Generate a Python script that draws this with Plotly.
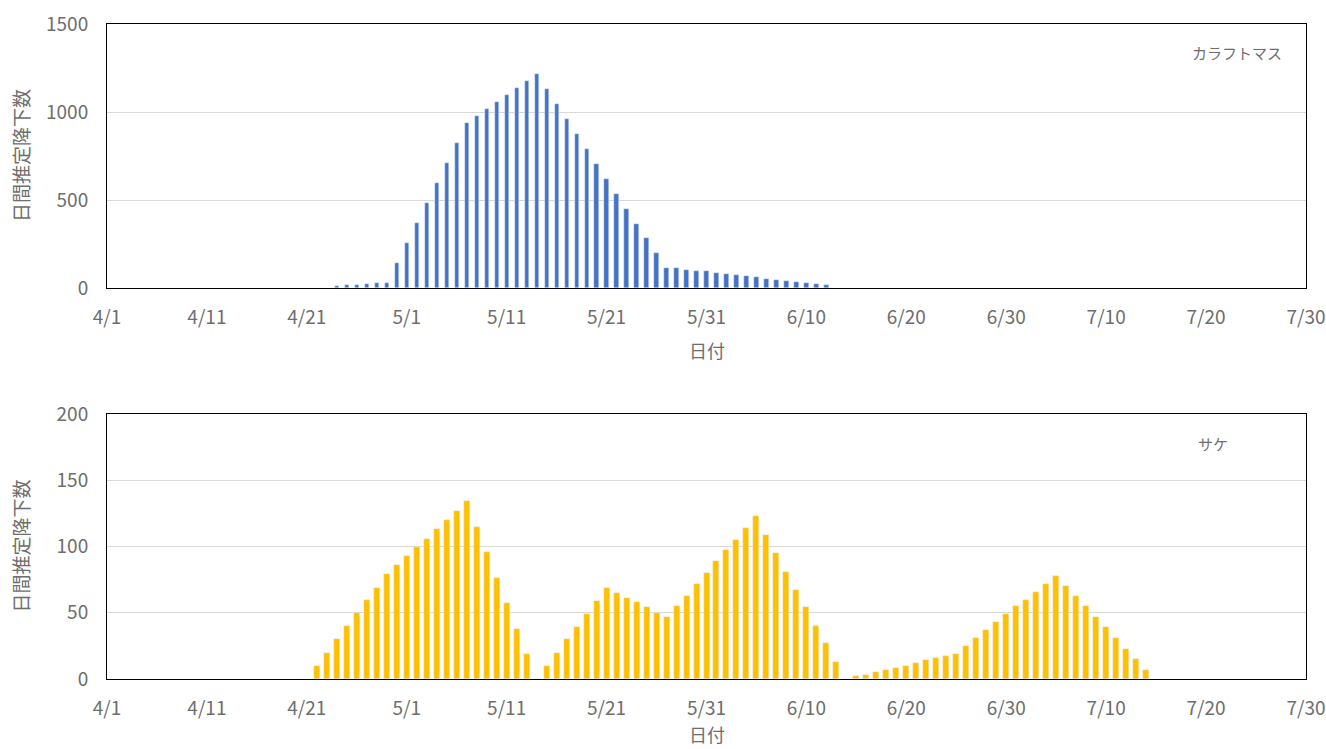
import plotly.graph_objects as go
import datetime as dt

# ---- data ----
pink_start = "2020-04-24"
pink_values = [10, 15, 15, 20, 27, 27, 140, 254, 369, 485, 599, 708, 824, 940, 980, 1017,
               1059, 1097, 1136, 1178, 1214, 1133, 1048, 959, 875, 788, 705, 618, 536, 451,
               366, 282, 201, 116, 112, 102, 99, 95, 85, 80, 76, 66, 61, 51, 48, 40, 34, 28,
               21, 15]

chum_start = "2020-04-22"
chum_values = [10, 20, 30, 40, 50, 60, 69, 79, 86, 93, 100, 106, 113, 120, 127, 134, 115,
               96, 76, 57, 38, 19, 0,
               10, 20, 30, 39, 49, 59, 69, 65, 61, 58, 54, 50, 47, 55, 63, 72, 80, 89, 97,
               105, 114, 123, 109, 95, 81, 67, 54, 40, 27, 13, 0,
               2, 3, 5, 7, 8, 10, 12, 14, 16, 17, 19, 25, 31, 37, 43, 49, 55, 60, 66, 72,
               78, 70, 63, 55, 47, 39, 31, 23, 15, 7]

pink_label = "カラフトマス"
chum_label = "サケ"
y_title = "日間推定降下数"
x_title = "日付"


def dates(start, n):
    d0 = dt.date.fromisoformat(start)
    return [(d0 + dt.timedelta(days=i)).isoformat() for i in range(n)]


DAY = 86400000
FONT = "Noto Sans CJK JP"
GRAY = "#6e6e6e"

fig = go.Figure()
fig.add_trace(go.Bar(x=dates(pink_start, len(pink_values)), y=pink_values,
                     marker_color="#4472C4", width=0.42 * DAY, xaxis="x", yaxis="y",
                     showlegend=False))
fig.add_trace(go.Bar(x=dates(chum_start, len(chum_values)), y=chum_values,
                     marker_color="#FFC000", width=0.6 * DAY, xaxis="x2", yaxis="y2",
                     showlegend=False))

W, H = 1326, 749


def px(x):
    return x / W


def py(y):
    return 1 - y / H


xd = [px(107), px(1306)]
yd1 = [py(288), py(24)]
yd2 = [py(679), py(414)]

xcommon = dict(type="date", range=["2020-04-01", "2020-07-30"], tick0="2020-04-01",
               dtick=10 * DAY, tickformat="%-m/%-d", showgrid=False, zeroline=False,
               showline=True, linecolor="black", linewidth=1, mirror=True,
               ticks="outside", ticklen=12, tickcolor="rgba(0,0,0,0)", automargin=False,
               tickfont=dict(family=FONT, size=19, color=GRAY), domain=xd)
ycommon = dict(showgrid=True, gridcolor="#d9d9d9", gridwidth=1, zeroline=False,
               showline=True, linecolor="black", linewidth=1, mirror=True,
               ticks="outside", ticklen=14, tickcolor="rgba(0,0,0,0)", automargin=False,
               tickfont=dict(family=FONT, size=19, color=GRAY))

fig.update_layout(
    width=W, height=H, margin=dict(l=0, r=0, t=0, b=0, autoexpand=False),
    plot_bgcolor="white", paper_bgcolor="white", bargap=0,
    xaxis=dict(**xcommon, anchor="y"),
    yaxis=dict(**ycommon, range=[0, 1500], dtick=500, domain=yd1, anchor="x"),
    xaxis2=dict(**xcommon, anchor="y2"),
    yaxis2=dict(**ycommon, range=[0, 200], dtick=50, domain=yd2, anchor="x2"),
)

ann = []
for yc in [(288 + 24) / 2, (679 + 414) / 2]:
    ann.append(dict(text=y_title, x=px(20), y=py(yc), xref="paper", yref="paper",
                    textangle=-90, showarrow=False, xanchor="center", yanchor="middle",
                    font=dict(family=FONT, size=19, color=GRAY)))
ann.append(dict(text=x_title, x=px(706.5), y=py(350), xref="paper", yref="paper",
                showarrow=False, xanchor="center", yanchor="middle",
                font=dict(family=FONT, size=18, color=GRAY)))
ann.append(dict(text=x_title, x=px(706.5), y=0, xref="paper", yref="paper",
                showarrow=False, xanchor="center", yanchor="bottom",
                font=dict(family=FONT, size=18, color=GRAY)))
ann.append(dict(text=pink_label, x=px(1237), y=py(53), xref="paper", yref="paper",
                showarrow=False, xanchor="center", yanchor="middle",
                font=dict(family=FONT, size=15, color=GRAY)))
ann.append(dict(text=chum_label, x=px(1213), y=py(443), xref="paper", yref="paper",
                showarrow=False, xanchor="center", yanchor="middle",
                font=dict(family=FONT, size=15, color=GRAY)))
fig.update_layout(annotations=ann)

fig.write_html("out.html", config={"displayModeBar": False},
               post_script="document.body.style.margin='0';document.body.style.overflow='hidden';")
